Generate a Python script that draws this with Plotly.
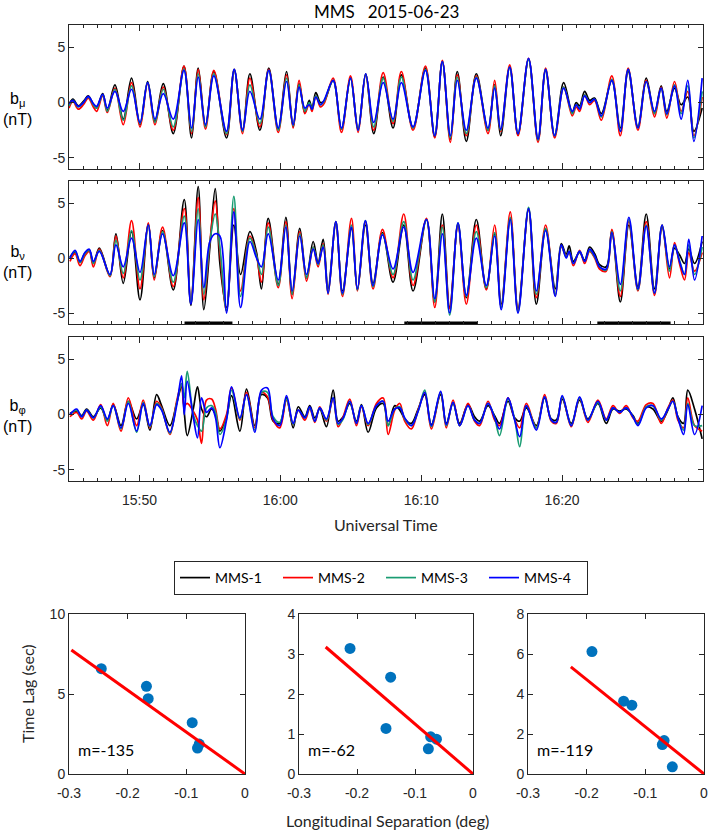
import plotly.graph_objects as go
import pandas as pd

# ---------------- data: time series (minutes after 15:45 UT, values in nT) ----------------
T1 = [0.00,0.28,0.66,1.02,1.37,1.73,1.96,2.39,2.72,3.26,
      3.85,4.44,5.04,5.58,6.10,6.69,7.40,8.16,8.70,9.17,
      9.69,10.28,11.18,11.73,12.32,12.84,13.55,14.18,14.85,15.44,
      15.91,16.33,16.74,17.05,17.25,17.52,17.85,18.10,18.75,19.34,
      19.98,20.52,21.06,21.63,22.30,23.00,23.59,24.42,25.30,25.96,
      26.50,27.07,27.56,28.20,28.91,29.74,30.21,30.64,31.28,31.87,
      32.62,33.29,33.83,34.47,35.11,35.72,36.00,36.24,36.60,36.95,
      37.30,37.78,38.53,39.13,39.69,40.38,40.97,41.56,42.03,42.43,
      42.98,43.45,43.92,44.35,44.94]
bmu_mms1 = [-0.2,0.3,-0.3,0.1,0.6,-0.2,-0.5,0.8,-0.7,1.6,
            -1.5,2.2,-2.0,1.9,-1.7,1.7,-2.8,3.3,-3.2,3.1,
            -2.1,2.8,-3.2,2.9,-2.5,2.6,-2.5,3.1,-2.4,2.8,
            -2.2,1.7,-0.9,0.2,-0.5,0.9,0.0,0.1,2.0,-2.4,
            2.2,-2.4,2.5,-2.8,2.3,-2.3,2.5,-2.3,3.1,-3.1,
            3.7,-3.3,2.8,-3.5,2.6,-2.5,1.6,-3.0,3.2,-2.9,
            3.9,-3.4,2.9,-3.0,1.8,-0.9,0.0,-0.3,1.0,0.2,
            0.4,-1.0,2.0,-2.3,2.8,-2.2,2.2,-1.0,1.5,-0.8,
            1.3,-0.2,0.5,-2.6,-0.5]
bmu_mms2 = [-0.5,0.1,-0.6,-0.2,0.4,-0.4,-0.8,0.6,-0.9,1.3,
            -2.0,1.8,-2.2,1.7,-2.0,1.4,-2.5,3.3,-2.8,3.0,
            -2.4,2.9,-2.9,3.0,-2.8,2.2,-2.2,3.0,-2.7,2.5,
            -2.3,2.0,-1.0,-0.1,-0.8,0.6,-0.4,-0.1,2.2,-2.7,
            2.4,-2.7,2.6,-2.5,2.7,-1.9,2.8,-2.5,3.3,-3.2,
            3.8,-3.6,2.5,-3.0,2.4,-2.8,2.0,-2.6,3.4,-3.0,
            4.0,-3.6,3.1,-3.2,1.4,-1.2,-0.4,-0.8,0.7,-0.2,
            0.2,-1.6,2.4,-3.0,3.1,-2.5,2.0,-1.3,1.4,-1.4,
            1.9,-0.8,1.0,-3.0,0.5]
bmu_mms3 = [-0.3,0.2,-0.4,0.0,0.5,-0.2,-0.5,0.7,-0.8,1.2,
            -1.6,1.5,-1.9,1.8,-1.8,1.2,-2.2,3.0,-2.6,2.6,
            -2.2,2.6,-2.8,3.0,-2.6,1.6,-1.9,2.9,-2.5,2.2,
            -2.1,1.6,-0.8,0.0,-0.6,0.6,-0.2,0.1,2.0,-2.4,
            2.2,-2.5,2.6,-2.2,2.2,-1.7,2.3,-2.3,3.0,-3.0,
            3.7,-3.2,2.3,-2.8,2.3,-2.5,1.5,-2.5,3.2,-2.8,
            3.9,-3.4,3.0,-3.0,1.4,-1.0,-0.2,-0.5,0.7,0.0,
            0.3,-1.3,2.1,-2.6,3.0,-2.3,1.9,-1.0,1.3,-1.1,
            1.6,-1.0,1.5,-3.2,1.0]
bmu_mms4 = [-0.1,0.2,-0.35,0.0,0.55,-0.1,-0.35,0.75,-0.5,1.0,
            -0.8,1.2,-1.8,1.8,-1.5,0.8,-1.5,2.9,-2.3,2.3,
            -2.0,2.4,-2.6,3.0,-2.5,1.0,-1.5,2.9,-2.3,1.9,
            -2.0,1.4,-0.5,-0.2,-0.6,0.5,-0.2,0.2,2.0,-2.3,
            2.2,-2.5,2.6,-1.8,1.8,-1.5,1.8,-2.2,2.9,-3.0,
            3.7,-3.0,2.0,-2.5,2.2,-2.3,1.3,-2.4,3.2,-2.8,
            4.0,-3.3,3.0,-3.0,1.3,-0.8,-0.2,-0.6,0.6,0.0,
            0.3,-1.2,2.0,-2.6,3.0,-2.3,1.9,-0.8,1.3,-1.0,
            1.5,-1.5,2.0,-3.5,2.2]

T2 = [0.07,0.43,0.78,1.13,1.44,1.73,2.15,2.91,3.33,3.85,
      4.44,5.04,5.63,6.05,6.64,7.40,8.18,8.65,9.17,9.57,
      10.00,10.38,10.71,11.18,11.70,12.18,12.84,13.31,13.66,14.14,
      14.85,15.39,15.84,16.38,16.86,17.33,17.68,18.04,18.39,18.94,
      19.41,20.05,20.47,21.04,21.58,22.25,23.00,23.76,24.42,25.37,
      25.96,26.50,27.02,27.61,28.20,28.91,29.62,30.21,30.68,31.32,
      31.87,32.62,33.17,33.83,34.52,34.94,35.29,35.50,35.80,36.24,
      36.60,36.95,37.31,37.66,38.13,38.53,39.13,39.74,40.38,40.97,
      41.56,42.10,42.62,42.98,43.33,43.69,43.99,44.40,44.94]
bnu_mms1 = [0.1,0.5,-0.4,0.4,0.7,-0.5,0.9,-1.6,2.2,-2.3,
            2.4,-3.8,3.1,-1.8,2.5,-2.9,5.3,-4.3,6.5,-4.7,
            1.0,6.3,-0.5,-4.5,3.0,-1.5,2.4,0.5,-2.8,3.6,
            -2.4,3.7,-3.3,2.7,-1.8,1.5,-0.4,1.7,-2.8,3.1,
            -3.0,2.7,-2.9,3.0,-2.3,2.3,-2.2,3.0,-3.0,3.5,
            -4.0,4.0,-4.5,3.0,-3.6,3.5,-2.8,2.2,-4.2,3.6,
            -4.6,4.4,-4.2,2.6,-2.8,1.3,0.3,1.1,-0.3,0.5,
            -0.2,1.0,0.4,-0.6,-0.8,2.5,-4.0,3.0,-2.6,4.0,
            -2.8,2.8,-1.0,0.9,0.3,-0.5,0.8,-0.5,1.5]
bnu_mms2 = [-0.3,0.4,-0.7,0.2,0.6,-0.8,0.8,-1.7,2.0,-1.8,
            3.4,-2.8,3.2,-2.0,2.8,-2.6,4.5,-4.0,5.5,-3.8,
            1.5,5.2,0.5,-4.8,4.5,-3.0,2.0,0.2,-2.2,3.2,
            -2.7,3.3,-3.7,2.4,-2.1,1.0,-0.8,1.3,-3.3,3.3,
            -3.5,3.6,-3.0,3.3,-2.8,2.6,-1.8,4.0,-2.5,3.6,
            -4.5,3.0,-4.6,3.1,-4.2,3.0,-2.9,3.0,-4.5,4.2,
            -4.8,4.5,-3.6,3.0,-3.4,1.0,0.2,0.5,-0.7,0.7,
            -0.5,0.6,0.0,-1.0,-1.2,2.6,-3.5,3.3,-3.0,3.3,
            -3.4,3.0,-1.8,1.4,-0.5,-2.0,0.5,-1.2,0.5]
bnu_mms3 = [0.0,0.6,-0.4,0.4,0.7,-0.5,0.7,-1.6,1.6,-1.4,
            2.5,-2.0,3.0,-1.7,2.4,-2.2,3.8,-4.0,4.5,-3.3,
            1.5,4.0,1.0,-4.8,5.6,-3.5,1.8,0.2,-1.5,2.8,
            -2.5,3.0,-3.3,2.2,-1.8,1.0,-0.6,1.2,-3.2,3.3,
            -3.3,3.0,-2.9,3.4,-2.6,2.2,-1.5,3.3,-2.0,3.5,
            -4.0,2.8,-5.2,3.2,-3.5,2.4,-2.7,2.3,-4.5,3.7,
            -4.9,4.6,-3.3,2.7,-3.3,1.1,0.1,0.6,-0.5,0.6,
            -0.3,0.7,0.1,-0.8,-1.1,2.4,-3.0,3.5,-2.9,3.0,
            -3.2,3.0,-1.2,1.2,-0.2,-1.5,1.2,-1.5,1.0]
bnu_mms4 = [0.0,0.7,-0.3,0.5,0.8,-0.3,0.6,-1.5,1.2,-0.8,
            1.8,-1.3,3.0,-1.5,2.2,-1.6,3.2,-4.2,3.5,-2.7,
            1.5,2.2,2.0,-5.0,4.2,-4.5,1.5,0.0,-0.8,2.2,
            -2.0,2.8,-3.0,2.0,-1.5,0.8,-0.5,1.0,-3.2,3.3,
            -3.2,2.8,-2.8,3.4,-2.5,2.1,-1.0,2.8,-1.3,3.5,
            -3.7,2.2,-5.0,3.2,-3.4,1.8,-2.5,2.0,-4.7,3.5,
            -5.0,4.5,-3.0,2.5,-3.5,1.2,0.0,0.6,-0.5,0.6,
            -0.3,0.8,0.2,-0.8,-1.0,2.3,-2.4,3.7,-2.8,2.9,
            -3.2,3.0,-0.8,1.2,-0.3,-1.5,1.7,-2.0,2.0]

T3 = [0.07,0.54,0.90,1.25,1.73,2.25,2.72,3.14,3.69,4.21,
      4.80,5.27,5.74,6.22,6.57,7.16,7.64,7.99,8.18,8.39,
      8.82,9.12,9.41,9.76,10.12,10.40,10.71,11.18,11.54,12.13,
      12.60,13.19,13.66,14.09,14.49,14.96,15.44,15.91,16.27,16.74,
      17.09,17.45,17.80,18.27,18.75,19.10,19.46,19.93,20.40,20.76,
      21.23,21.82,22.30,22.65,23.12,23.48,23.83,24.30,24.78,25.25,
      25.72,26.38,26.78,27.26,27.73,28.32,28.79,29.15,29.74,30.21,
      30.56,31.16,31.63,31.99,32.46,33.17,33.76,34.23,34.59,35.01,
      35.65,36.24,36.83,37.54,38.13,38.61,39.08,39.55,40.03,40.38,
      40.97,41.45,42.04,42.51,42.86,43.22,43.62,43.92,44.40,44.94]
bphi_mms1 = [0.1,0.3,-0.1,0.5,-0.2,0.6,-0.5,0.9,-1.0,1.2,
             -0.4,0.9,-1.4,1.8,0.8,-1.0,1.0,2.5,0.2,-1.9,
             0.5,2.5,0.5,-0.2,0.5,0.0,-1.5,-0.2,1.7,-1.5,
             2.3,-1.0,1.8,1.5,-0.6,-0.8,1.5,-1.2,0.7,-0.2,
             0.8,-0.3,0.5,-1.1,2.2,-0.6,-0.2,1.0,-0.6,0.9,
             -1.6,0.6,1.0,-1.0,0.8,0.4,-0.4,-0.8,0.5,1.8,
             -0.9,1.8,-0.8,1.0,-0.8,0.9,-0.2,-0.6,0.8,-0.1,
             -0.8,1.2,-0.3,-0.6,0.6,-1.0,1.5,-0.4,-0.5,1.4,
             -0.8,1.3,-0.4,1.0,-0.8,0.5,0.3,0.5,-0.1,-0.8,
             0.7,0.5,-0.6,0.4,1.5,-0.2,-0.8,2.2,0.5,-2.2]
bphi_mms2 = [-0.2,0.2,-0.4,0.3,-0.5,0.9,-1.0,1.0,-1.5,1.5,
             -1.0,1.3,-1.2,1.2,0.6,-1.8,1.2,2.8,0.8,1.0,
             0.3,-0.5,-2.6,1.3,1.4,0.5,-1.3,0.0,2.4,-0.5,
             2.0,-1.2,2.0,1.6,-0.5,-1.2,1.3,-0.9,0.4,-0.5,
             0.5,-0.7,0.7,-0.6,1.4,-1.1,-0.2,1.4,-1.0,0.7,
             -1.0,1.0,1.5,-1.8,0.4,1.0,-0.6,-1.3,0.4,2.0,
             -1.3,2.0,-1.2,1.3,-1.0,1.0,-0.6,-1.0,1.2,-0.5,
             -1.0,1.5,-0.4,-1.2,1.0,-1.2,1.8,-0.6,-0.8,1.6,
             -1.1,1.5,-0.7,1.3,-0.4,0.8,0.1,0.8,-0.3,-0.6,
             0.9,1.0,-0.8,0.6,1.3,-0.5,-1.2,1.5,-1.0,-1.5]
bphi_mms3 = [0.0,0.4,-0.2,0.4,-0.3,0.7,-0.6,0.8,-1.3,1.2,
             -1.6,1.1,-1.1,1.0,0.5,-1.7,1.0,2.8,1.5,3.9,
             0.0,-1.0,-1.5,0.6,0.8,0.2,-1.8,-0.4,2.2,-0.4,
             1.8,-1.4,2.0,2.0,-0.2,-0.7,1.4,-0.9,0.4,-0.3,
             0.6,-0.6,0.6,-0.5,1.5,-0.9,-0.4,1.2,-0.8,0.8,
             -0.9,0.8,1.2,-1.0,0.5,0.7,-0.4,-1.0,0.3,2.2,
             -1.1,2.0,-1.0,1.1,-1.0,0.8,-0.5,-0.8,1.0,-0.3,
             -1.9,1.4,-0.4,-2.9,0.8,-1.2,1.6,-0.5,-0.7,1.6,
             -1.0,1.5,-0.5,1.1,-0.5,0.6,0.2,0.6,-0.2,-0.9,
             0.7,0.8,-0.5,0.5,1.2,-0.3,-1.4,1.0,-1.0,-1.0]
bphi_mms4 = [0.0,0.5,-0.2,0.4,-0.3,0.8,-0.4,0.8,-1.2,1.0,
             -1.5,1.0,-1.0,0.9,0.4,-1.6,0.8,3.5,0.0,3.0,
             -0.2,-2.1,1.5,0.2,0.6,-0.3,-3.0,-0.5,2.5,-0.3,
             1.8,-1.6,2.2,2.4,-0.4,-1.0,1.7,-0.8,0.4,-0.3,
             0.7,-0.6,0.6,-0.4,1.5,-0.8,-0.3,1.2,-0.8,0.8,
             -0.8,0.8,1.2,-0.6,0.5,0.6,-0.3,-1.0,0.3,2.0,
             -1.0,2.1,-0.9,1.1,-1.0,0.8,-0.5,-0.8,1.0,-0.3,
             -1.3,1.5,-0.5,-2.0,0.8,-1.4,1.6,-0.5,-0.7,1.7,
             -1.0,1.6,-0.5,1.2,-0.5,0.6,0.2,0.6,-0.2,-1.0,
             0.6,0.8,-0.4,0.5,1.2,-0.3,-1.8,0.9,-1.8,0.8]

# intervals marked with black bars under the b_nu panel (minutes after 15:45)
bar_start = [8.2, 23.8, 37.5]
bar_end = [11.6, 29.0, 42.7]

# ---------------- data: time lag vs longitudinal separation ----------------
sep1 = [-0.245, -0.168, -0.165, -0.090, -0.078, -0.081]
lag1 = [6.58, 5.48, 4.71, 3.21, 1.87, 1.62]
sep2 = [-0.212, -0.142, -0.150, -0.073, -0.063, -0.077]
lag2 = [3.14, 2.42, 1.14, 0.93, 0.87, 0.63]
sep3 = [-0.191, -0.137, -0.123, -0.068, -0.071, -0.054]
lag3 = [6.12, 3.64, 3.44, 1.67, 1.47, 0.36]
fit_slope = [-26.2, -12.5, -23.6]
fit_xstart = [-0.296, -0.254, -0.227]
m_labels = ["m=-135", "m=-62", "m=-119"]

series_names = ["MMS-1", "MMS-2", "MMS-3", "MMS-4"]
panel_labels = ["b<sub>μ</sub><br>(nT)", "b<sub>ν</sub><br>(nT)", "b<sub>φ</sub><br>(nT)"]
time_axis_title = "Universal Time"

# ---------------- figure ----------------
W, H = 709, 831
def px(x):
    return x / W
def py(y):
    return 1 - y / H

base = pd.Timestamp("2015-06-23 15:45:00")
def to_time(mins):
    return [base + pd.Timedelta(minutes=m) for m in mins]

colors = ["#000000", "#ff0000", "#1a9c72", "#0000ff"]
AX = "#262626"
TICKFONT = dict(family="Liberation Sans, Arial", size=14, color=AX)
TEXTFONT = "Lato, Open Sans, sans-serif"

panels = [
    (T1, [bmu_mms1, bmu_mms2, bmu_mms3, bmu_mms4]),
    (T2, [bnu_mms1, bnu_mms2, bnu_mms3, bnu_mms4]),
    (T3, [bphi_mms1, bphi_mms2, bphi_mms3, bphi_mms4]),
]

fig = go.Figure()
for pi, (tt, sers) in enumerate(panels):
    xa = "x" if pi == 0 else f"x{pi+1}"
    ya = "y" if pi == 0 else f"y{pi+1}"
    for si, vals in enumerate(sers):
        assert len(vals) == len(tt), (pi, si, len(vals), len(tt))
        fig.add_trace(go.Scatter(
            x=to_time(tt), y=vals, mode="lines", name=series_names[si],
            line=dict(color=colors[si], width=1.7, shape="spline", smoothing=1.0),
            showlegend=(pi == 0), xaxis=xa, yaxis=ya, hoverinfo="skip"))

# black bars
bx, by = [], []
for s, e in zip(bar_start, bar_end):
    bx += to_time([s, e]) + [None]
    by += [-6, -6, None]
fig.add_trace(go.Scatter(x=bx, y=by, mode="lines", line=dict(color="black", width=5),
                         showlegend=False, xaxis="x2", yaxis="y2", cliponaxis=False,
                         hoverinfo="skip"))

# lag plots
lag_sets = [(sep1, lag1), (sep2, lag2), (sep3, lag3)]
for k, (sx, ly) in enumerate(lag_sets):
    xa, ya = f"x{k+4}", f"y{k+4}"
    fig.add_trace(go.Scatter(x=sx, y=ly, mode="markers",
                             marker=dict(color="#0072bd", size=11),
                             showlegend=False, xaxis=xa, yaxis=ya, hoverinfo="skip"))
    x0 = fit_xstart[k]
    fig.add_trace(go.Scatter(x=[x0, 0], y=[fit_slope[k] * x0, 0], mode="lines",
                             line=dict(color="#ff0000", width=3),
                             showlegend=False, xaxis=xa, yaxis=ya, cliponaxis=False,
                             hoverinfo="skip"))

common = dict(showline=True, linecolor=AX, linewidth=1, mirror="ticks", ticks="inside",
              ticklen=5, tickcolor=AX, zeroline=False, showgrid=False, tickfont=TICKFONT)

xdom_top = [px(69), px(703)]
ydoms = [[py(169), py(25)], [py(324), py(181)], [py(481), py(337)]]
layout = dict(width=W, height=H, margin=dict(l=0, r=0, t=0, b=0, autoexpand=False),
              paper_bgcolor="white", plot_bgcolor="white")

for pi in range(3):
    xk = "xaxis" if pi == 0 else f"xaxis{pi+1}"
    yk = "yaxis" if pi == 0 else f"yaxis{pi+1}"
    ya = "y" if pi == 0 else f"y{pi+1}"
    xa = "x" if pi == 0 else f"x{pi+1}"
    layout[xk] = dict(common, type="date", domain=xdom_top, anchor=ya,
                      range=[base, base + pd.Timedelta(minutes=45)],
                      tick0="2015-06-23 15:50:00", dtick=600000, tickformat="%H:%M",
                      showticklabels=(pi == 2), ticklen=6, ticklabelstandoff=6,
                      minor=dict(dtick=60000, ticks="inside", ticklen=3, tickcolor=AX))
    layout[yk] = dict(common, domain=ydoms[pi], anchor=xa, range=[-6, 7],
                      tickvals=[-5, 0, 5], ticktext=["-5", "0", "5"])

bx_doms = [[px(69), px(245)], [px(299), px(473)], [px(528), px(704)]]
by_dom = [py(774), py(614)]
yranges = [[0, 10], [0, 4], [0, 8]]
ytv = [[0, 5, 10], [0, 1, 2, 3, 4], [0, 2, 4, 6, 8]]
for k in range(3):
    layout[f"xaxis{k+4}"] = dict(common, domain=bx_doms[k], anchor=f"y{k+4}", range=[-0.3, 0],
                                 tickvals=[-0.3, -0.2, -0.1, 0],
                                 ticktext=["-0.3", "-0.2", "-0.1", "0"],
                                 ticklabelstandoff=6)
    layout[f"yaxis{k+4}"] = dict(common, domain=by_dom, anchor=f"x{k+4}", range=yranges[k],
                                 tickvals=ytv[k], ticktext=[str(v) for v in ytv[k]])

layout["legend"] = dict(orientation="h", x=px(174), y=py(561), xanchor="left", yanchor="top",
                        bordercolor=AX, borderwidth=1, bgcolor="white",
                        font=dict(family=TEXTFONT, size=14, color="black"),
                        itemwidth=30, entrywidth=58, traceorder="normal")

def note(text, x, y, size=16, color="black", family=TEXTFONT, **kw):
    d = dict(text=text, x=px(x), y=py(y), xref="paper", yref="paper", showarrow=False,
             xanchor="center", yanchor="middle",
             font=dict(family=family, size=size, color=color))
    d.update(kw)
    return d

ann = []
ann.append(note("MMS\u00a0\u00a0\u00a02015-06-23", 386, 11, size=17))
for pi, lab in enumerate(panel_labels):
    cy = [109, 262, 416][pi]
    ann.append(note(lab, 17, cy, size=16, family="Liberation Sans, Arial"))
ann.append(note(time_axis_title, 386, 524, color=AX))
ann.append(note("Time Lag (sec)", 27, 694, color=AX, textangle=-90))
ann.append(note("Longitudinal Separation (deg)", 387, 820, color=AX))
for k in range(3):
    ann.append(note(m_labels[k], bx_doms[k][0] * W + 7, 749, xanchor="left"))
layout["annotations"] = ann

fig.update_layout(**layout)
fig.write_html("out.html", config={"displayModeBar": False},
               post_script="document.body.style.margin='0';document.body.style.padding='0';")
